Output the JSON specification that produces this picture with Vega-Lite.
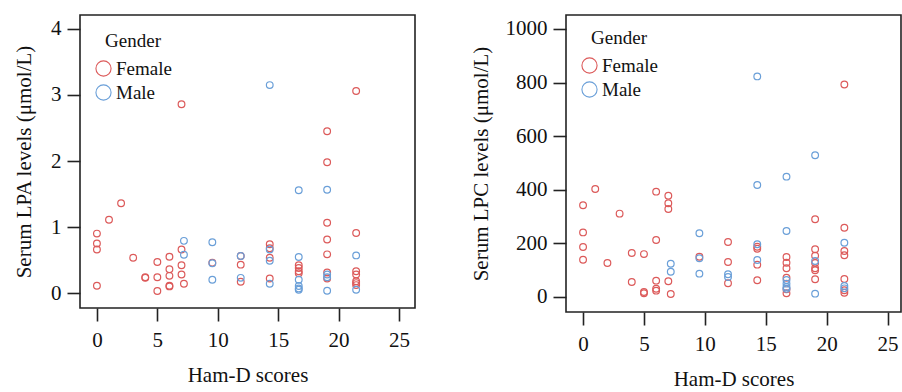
{
  "$schema": "https://vega.github.io/schema/vega-lite/v6.json",
  "padding": {"left": 12, "top": 14, "right": 0, "bottom": 0},
  "datasets": {
    "lpa": [
      {"h": 0, "v": 0.90, "g": "Female"}, {"h": 0, "v": 0.75, "g": "Female"}, {"h": 0, "v": 0.66, "g": "Female"}, {"h": 0, "v": 0.11, "g": "Female"},
      {"h": 1, "v": 1.11, "g": "Female"}, {"h": 2, "v": 1.36, "g": "Female"}, {"h": 3, "v": 0.535, "g": "Female"},
      {"h": 4, "v": 0.24, "g": "Female"}, {"h": 4, "v": 0.23, "g": "Female"},
      {"h": 5, "v": 0.47, "g": "Female"}, {"h": 5, "v": 0.24, "g": "Female"}, {"h": 5, "v": 0.03, "g": "Female"},
      {"h": 6, "v": 0.55, "g": "Female"}, {"h": 6, "v": 0.36, "g": "Female"}, {"h": 6, "v": 0.26, "g": "Female"}, {"h": 6, "v": 0.11, "g": "Female"}, {"h": 6, "v": 0.10, "g": "Female"},
      {"h": 7, "v": 2.86, "g": "Female"}, {"h": 7, "v": 0.66, "g": "Female"}, {"h": 7, "v": 0.42, "g": "Female"}, {"h": 7, "v": 0.28, "g": "Female"},
      {"h": 7.2, "v": 0.14, "g": "Female"},
      {"h": 9.55, "v": 0.46, "g": "Female"},
      {"h": 11.9, "v": 0.56, "g": "Female"}, {"h": 11.9, "v": 0.43, "g": "Female"}, {"h": 11.9, "v": 0.17, "g": "Female"},
      {"h": 14.3, "v": 0.74, "g": "Female"}, {"h": 14.3, "v": 0.68, "g": "Female"}, {"h": 14.3, "v": 0.535, "g": "Female"}, {"h": 14.3, "v": 0.22, "g": "Female"},
      {"h": 16.7, "v": 0.42, "g": "Female"}, {"h": 16.7, "v": 0.38, "g": "Female"}, {"h": 16.7, "v": 0.33, "g": "Female"}, {"h": 16.7, "v": 0.30, "g": "Female"},
      {"h": 19.05, "v": 2.45, "g": "Female"}, {"h": 19.05, "v": 1.98, "g": "Female"}, {"h": 19.05, "v": 1.065, "g": "Female"}, {"h": 19.05, "v": 0.81, "g": "Female"}, {"h": 19.05, "v": 0.586, "g": "Female"}, {"h": 19.05, "v": 0.31, "g": "Female"}, {"h": 19.05, "v": 0.22, "g": "Female"},
      {"h": 21.45, "v": 3.06, "g": "Female"}, {"h": 21.45, "v": 0.91, "g": "Female"}, {"h": 21.45, "v": 0.33, "g": "Female"}, {"h": 21.45, "v": 0.28, "g": "Female"}, {"h": 21.45, "v": 0.18, "g": "Female"}, {"h": 21.45, "v": 0.15, "g": "Female"}, {"h": 21.45, "v": 0.12, "g": "Female"},
      {"h": 7.2, "v": 0.79, "g": "Male"}, {"h": 7.2, "v": 0.58, "g": "Male"},
      {"h": 9.55, "v": 0.77, "g": "Male"}, {"h": 9.55, "v": 0.45, "g": "Male"}, {"h": 9.55, "v": 0.20, "g": "Male"},
      {"h": 11.9, "v": 0.56, "g": "Male"}, {"h": 11.9, "v": 0.23, "g": "Male"},
      {"h": 14.3, "v": 3.15, "g": "Male"}, {"h": 14.3, "v": 0.66, "g": "Male"}, {"h": 14.3, "v": 0.49, "g": "Male"}, {"h": 14.3, "v": 0.14, "g": "Male"},
      {"h": 16.7, "v": 1.556, "g": "Male"}, {"h": 16.7, "v": 0.545, "g": "Male"}, {"h": 16.7, "v": 0.20, "g": "Male"}, {"h": 16.7, "v": 0.106, "g": "Male"}, {"h": 16.7, "v": 0.07, "g": "Male"}, {"h": 16.7, "v": 0.05, "g": "Male"},
      {"h": 19.05, "v": 1.565, "g": "Male"}, {"h": 19.05, "v": 0.28, "g": "Male"}, {"h": 19.05, "v": 0.24, "g": "Male"}, {"h": 19.05, "v": 0.035, "g": "Male"},
      {"h": 21.45, "v": 0.57, "g": "Male"}, {"h": 21.45, "v": 0.05, "g": "Male"}
    ],
    "lpc": [
      {"h": 0, "v": 342, "g": "Female"}, {"h": 0, "v": 241, "g": "Female"}, {"h": 0, "v": 186.6, "g": "Female"}, {"h": 0, "v": 139, "g": "Female"},
      {"h": 1, "v": 403, "g": "Female"}, {"h": 2, "v": 127, "g": "Female"}, {"h": 3, "v": 311, "g": "Female"},
      {"h": 4, "v": 164, "g": "Female"}, {"h": 4, "v": 56, "g": "Female"},
      {"h": 5, "v": 160, "g": "Female"}, {"h": 5, "v": 18.7, "g": "Female"}, {"h": 5, "v": 13.7, "g": "Female"},
      {"h": 6, "v": 393, "g": "Female"}, {"h": 6, "v": 212.7, "g": "Female"}, {"h": 6, "v": 61, "g": "Female"}, {"h": 6, "v": 31, "g": "Female"}, {"h": 6, "v": 23.6, "g": "Female"},
      {"h": 7, "v": 378, "g": "Female"}, {"h": 7, "v": 349.6, "g": "Female"}, {"h": 7, "v": 328, "g": "Female"}, {"h": 7, "v": 58.5, "g": "Female"},
      {"h": 7.2, "v": 11, "g": "Female"},
      {"h": 9.55, "v": 150.4, "g": "Female"},
      {"h": 11.9, "v": 205, "g": "Female"}, {"h": 11.9, "v": 130.6, "g": "Female"}, {"h": 11.9, "v": 51, "g": "Female"},
      {"h": 14.3, "v": 187.7, "g": "Female"}, {"h": 14.3, "v": 180, "g": "Female"}, {"h": 14.3, "v": 120.6, "g": "Female"}, {"h": 14.3, "v": 62.2, "g": "Female"},
      {"h": 16.7, "v": 149, "g": "Female"}, {"h": 16.7, "v": 128, "g": "Female"}, {"h": 16.7, "v": 107, "g": "Female"}, {"h": 16.7, "v": 72, "g": "Female"}, {"h": 16.7, "v": 28.6, "g": "Female"}, {"h": 16.7, "v": 13.7, "g": "Female"},
      {"h": 19.05, "v": 290, "g": "Female"}, {"h": 19.05, "v": 178, "g": "Female"}, {"h": 19.05, "v": 154, "g": "Female"}, {"h": 19.05, "v": 127, "g": "Female"}, {"h": 19.05, "v": 107, "g": "Female"}, {"h": 19.05, "v": 99.6, "g": "Female"}, {"h": 19.05, "v": 66, "g": "Female"},
      {"h": 21.45, "v": 793, "g": "Female"}, {"h": 21.45, "v": 258.6, "g": "Female"}, {"h": 21.45, "v": 171.6, "g": "Female"}, {"h": 21.45, "v": 155.5, "g": "Female"}, {"h": 21.45, "v": 67, "g": "Female"}, {"h": 21.45, "v": 25, "g": "Female"}, {"h": 21.45, "v": 16, "g": "Female"},
      {"h": 7.2, "v": 124, "g": "Male"}, {"h": 7.2, "v": 94.4, "g": "Male"},
      {"h": 9.55, "v": 237.6, "g": "Male"}, {"h": 9.55, "v": 144.4, "g": "Male"}, {"h": 9.55, "v": 87, "g": "Male"},
      {"h": 11.9, "v": 84.6, "g": "Male"}, {"h": 11.9, "v": 74.6, "g": "Male"},
      {"h": 14.3, "v": 823, "g": "Male"}, {"h": 14.3, "v": 418, "g": "Male"}, {"h": 14.3, "v": 196.6, "g": "Male"}, {"h": 14.3, "v": 138, "g": "Male"},
      {"h": 16.7, "v": 449, "g": "Male"}, {"h": 16.7, "v": 246, "g": "Male"}, {"h": 16.7, "v": 63.4, "g": "Male"}, {"h": 16.7, "v": 49.8, "g": "Male"}, {"h": 16.7, "v": 37.3, "g": "Male"}, {"h": 16.7, "v": 31, "g": "Male"},
      {"h": 19.05, "v": 528.7, "g": "Male"}, {"h": 19.05, "v": 134, "g": "Male"}, {"h": 19.05, "v": 12.4, "g": "Male"},
      {"h": 21.45, "v": 202.6, "g": "Male"}, {"h": 21.45, "v": 41, "g": "Male"}, {"h": 21.45, "v": 32.3, "g": "Male"}
    ]
  },
  "spacing": 53,
  "hconcat": [
    {
      "width": 335,
      "height": 293,
      "data": {"name": "lpa"},
      "mark": {"type": "point", "shape": "circle", "filled": false, "size": 45, "strokeWidth": 1.2, "opacity": 1},
      "encoding": {
        "x": {"field": "h", "type": "quantitative", "title": "Ham-D scores",
              "scale": {"domain": [-1.4, 26.32], "nice": false, "zero": false},
              "axis": {"values": [0, 5, 10, 15, 20, 25], "format": "d", "labelFont": "Liberation Serif", "labelFontSize": 21}},
        "y": {"field": "v", "type": "quantitative", "title": "Serum LPA levels (μmol/L)",
              "scale": {"domain": [-0.227, 4.212], "nice": false, "zero": false},
              "axis": {"values": [0, 1, 2, 3, 4], "format": "d", "titlePadding": 16, "labelFont": "Liberation Serif", "labelFontSize": 21}},
        "color": {"field": "g", "type": "nominal",
                  "scale": {"domain": ["Female", "Male"], "range": ["#dc5a5a", "#6a9fd8"]},
                  "legend": {"title": "Gender", "orient": "none", "legendX": 14, "legendY": 17}}
      }
    },
    {
      "width": 335,
      "height": 297,
      "data": {"name": "lpc"},
      "mark": {"type": "point", "shape": "circle", "filled": false, "size": 45, "strokeWidth": 1.2, "opacity": 1},
      "encoding": {
        "x": {"field": "h", "type": "quantitative", "title": "Ham-D scores",
              "scale": {"domain": [-1.4, 26.1], "nice": false, "zero": false},
              "axis": {"values": [0, 5, 10, 15, 20, 25], "format": "d", "labelFont": "Liberation Serif", "labelFontSize": 21}},
        "y": {"field": "v", "type": "quantitative", "title": "Serum LPC levels (μmol/L)",
              "scale": {"domain": [-56, 1052], "nice": false, "zero": false},
              "axis": {"values": [0, 200, 400, 600, 800, 1000], "format": "d", "titlePadding": 14, "labelFont": "Liberation Serif", "labelFontSize": 21}},
        "color": {"field": "g", "type": "nominal",
                  "scale": {"domain": ["Female", "Male"], "range": ["#dc5a5a", "#6a9fd8"]},
                  "legend": {"title": "Gender", "orient": "none", "legendX": 14, "legendY": 14}}
      }
    }
  ],
  "resolve": {"legend": {"color": "independent"}, "scale": {"x": "independent", "y": "independent"}},
  "config": {
    "font": "Liberation Serif",
    "view": {"stroke": "#222222", "strokeWidth": 1.6},
    "axis": {
      "domain": false,
      "grid": false,
      "ticks": true,
      "tickSize": 13,
      "tickWidth": 1.6,
      "tickColor": "#222222",
      "labelFont": "Liberation Serif",
      "labelFontSize": 21,
      "labelColor": "#111111",
      "labelPadding": 6,
      "titleFont": "Liberation Serif",
      "titleFontSize": 21,
      "titleFontWeight": "normal",
      "titleColor": "#111111"
    },
    "axisX": {"titlePadding": 14, "labelPadding": 8},
    "axisY": {"labelPadding": 6},
    "legend": {
      "padding": 0,
      "titleFont": "Liberation Serif",
      "titleFontSize": 19,
      "titleFontWeight": "normal",
      "titleColor": "#111111",
      "titleAnchor": "middle",
      "titlePadding": 8,
      "labelFont": "Liberation Serif",
      "labelFontSize": 19,
      "labelColor": "#111111",
      "labelOffset": 3,
      "symbolSize": 230,
      "symbolStrokeWidth": 1.1,
      "symbolType": "circle",
      "rowPadding": 3
    }
  }
}
